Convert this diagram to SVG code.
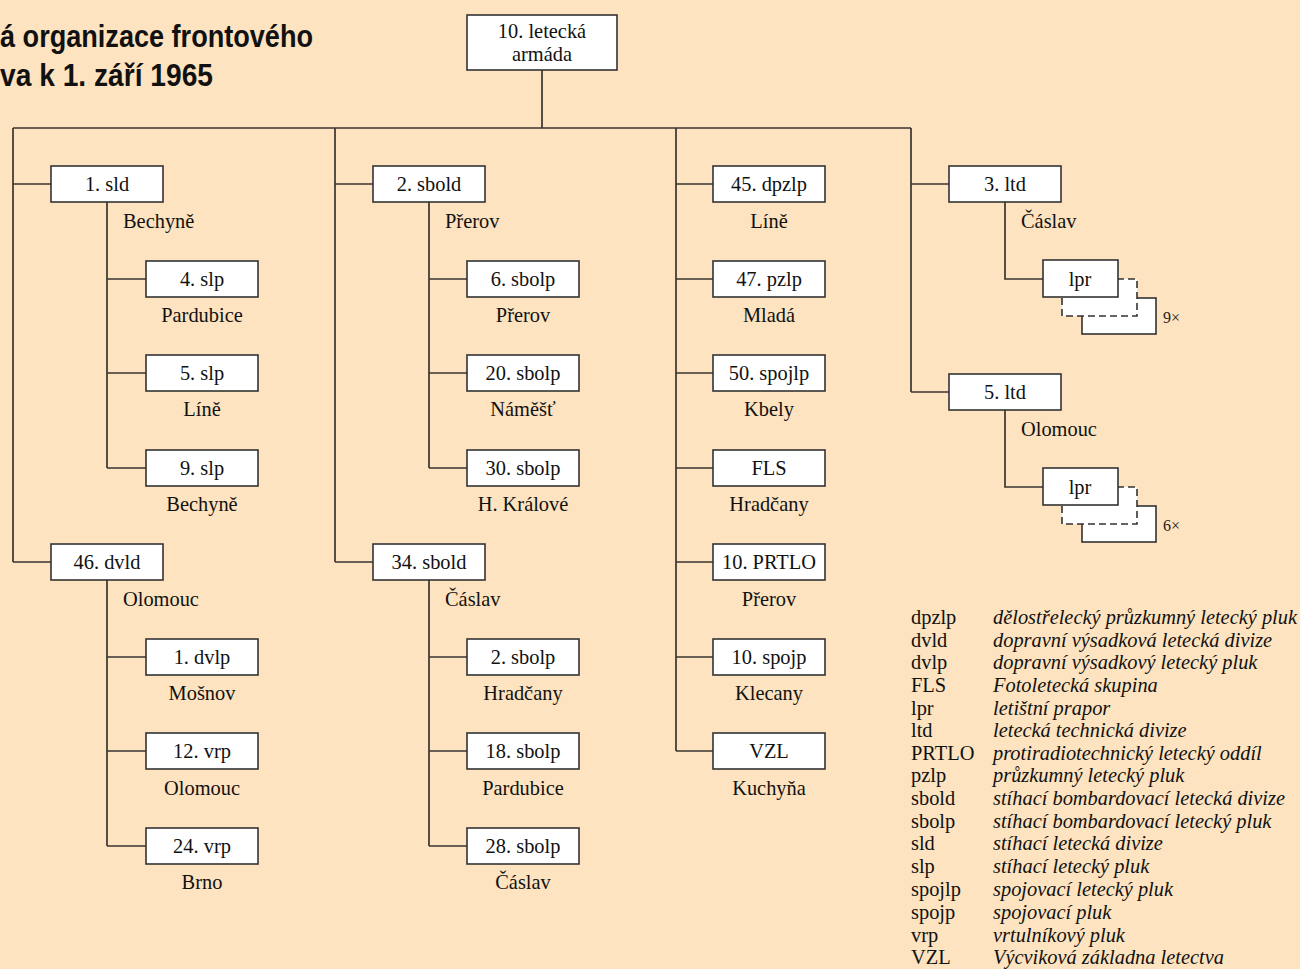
<svg xmlns="http://www.w3.org/2000/svg" width="1300" height="969" viewBox="0 0 1300 969">
<style>
.bg{fill:#fde3bf}
.box{fill:#fff;stroke:#333;stroke-width:1.6}
.dash{fill:#fff;stroke:#333;stroke-width:1.6;stroke-dasharray:7 4}
.ln{fill:none;stroke:#3a3530;stroke-width:1.7}
.t{font-family:"Liberation Serif","Times New Roman",serif;font-size:20.4px;fill:#111}
.c{text-anchor:middle}
.i{font-style:italic}
.title{font-family:"Liberation Sans Narrow","Liberation Sans",Arial,sans-serif;font-weight:bold;font-size:31px;fill:#111}
.x{font-family:"Liberation Serif",serif;font-size:16px;fill:#222}
</style>
<rect class="bg" x="0" y="0" width="1300" height="969"/>
<g id="title">
<text class="title" x="0" y="47" textLength="313" lengthAdjust="spacingAndGlyphs">á organizace frontového</text>
<text class="title" x="0" y="86" textLength="213" lengthAdjust="spacingAndGlyphs">va k 1. září 1965</text>
</g>
<g id="connectors">
<path class="ln" d="M542 70V128M13 128H911M13 128V562M335 128V562M676 128V751M911 128V392"/>
<path class="ln" d="M13 184H51M13 562H51M107 202V468M107 279H146M107 373H146M107 468H146M107 580V846M107 657H146M107 751H146M107 846H146"/>
<path class="ln" d="M335 184H373M335 562H373M429 202V468M429 279H467M429 373H467M429 468H467M429 580V846M429 657H467M429 751H467M429 846H467"/>
<path class="ln" d="M676 184H713M676 279H713M676 373H713M676 468H713M676 562H713M676 657H713M676 751H713"/>
<path class="ln" d="M911 184H949M911 392H949M1005 202V279H1043M1005 410V487H1043"/>
</g>
<g id="n-armada"><rect class="box" x="467" y="15" width="150" height="55"/><text class="t c" x="542" y="38">10. letecká</text><text class="t c" x="542" y="61">armáda</text></g>
<g id="n-1sld"><rect class="box" x="51" y="166" width="112" height="36"/><text class="t c" x="107" y="191">1. sld</text><text class="t" x="123" y="228">Bechyně</text></g>
<g id="n-4slp"><rect class="box" x="146" y="261" width="112" height="36"/><text class="t c" x="202" y="286">4. slp</text><text class="t c" x="202" y="322">Pardubice</text></g>
<g id="n-5slp"><rect class="box" x="146" y="355" width="112" height="36"/><text class="t c" x="202" y="380">5. slp</text><text class="t c" x="202" y="416">Líně</text></g>
<g id="n-9slp"><rect class="box" x="146" y="450" width="112" height="36"/><text class="t c" x="202" y="475">9. slp</text><text class="t c" x="202" y="511">Bechyně</text></g>
<g id="n-46dvld"><rect class="box" x="51" y="544" width="112" height="36"/><text class="t c" x="107" y="569">46. dvld</text><text class="t" x="123" y="606">Olomouc</text></g>
<g id="n-1dvlp"><rect class="box" x="146" y="639" width="112" height="36"/><text class="t c" x="202" y="664">1. dvlp</text><text class="t c" x="202" y="700">Mošnov</text></g>
<g id="n-12vrp"><rect class="box" x="146" y="733" width="112" height="36"/><text class="t c" x="202" y="758">12. vrp</text><text class="t c" x="202" y="795">Olomouc</text></g>
<g id="n-24vrp"><rect class="box" x="146" y="828" width="112" height="36"/><text class="t c" x="202" y="853">24. vrp</text><text class="t c" x="202" y="889">Brno</text></g>
<g id="n-2sbold"><rect class="box" x="373" y="166" width="112" height="36"/><text class="t c" x="429" y="191">2. sbold</text><text class="t" x="445" y="228">Přerov</text></g>
<g id="n-6sbolp"><rect class="box" x="467" y="261" width="112" height="36"/><text class="t c" x="523" y="286">6. sbolp</text><text class="t c" x="523" y="322">Přerov</text></g>
<g id="n-20sbolp"><rect class="box" x="467" y="355" width="112" height="36"/><text class="t c" x="523" y="380">20. sbolp</text><text class="t c" x="523" y="416">Náměšť</text></g>
<g id="n-30sbolp"><rect class="box" x="467" y="450" width="112" height="36"/><text class="t c" x="523" y="475">30. sbolp</text><text class="t c" x="523" y="511">H. Králové</text></g>
<g id="n-34sbold"><rect class="box" x="373" y="544" width="112" height="36"/><text class="t c" x="429" y="569">34. sbold</text><text class="t" x="445" y="606">Čáslav</text></g>
<g id="n-2sbolp"><rect class="box" x="467" y="639" width="112" height="36"/><text class="t c" x="523" y="664">2. sbolp</text><text class="t c" x="523" y="700">Hradčany</text></g>
<g id="n-18sbolp"><rect class="box" x="467" y="733" width="112" height="36"/><text class="t c" x="523" y="758">18. sbolp</text><text class="t c" x="523" y="795">Pardubice</text></g>
<g id="n-28sbolp"><rect class="box" x="467" y="828" width="112" height="36"/><text class="t c" x="523" y="853">28. sbolp</text><text class="t c" x="523" y="889">Čáslav</text></g>
<g id="n-45dpzlp"><rect class="box" x="713" y="166" width="112" height="36"/><text class="t c" x="769" y="191">45. dpzlp</text><text class="t c" x="769" y="228">Líně</text></g>
<g id="n-47pzlp"><rect class="box" x="713" y="261" width="112" height="36"/><text class="t c" x="769" y="286">47. pzlp</text><text class="t c" x="769" y="322">Mladá</text></g>
<g id="n-50spojlp"><rect class="box" x="713" y="355" width="112" height="36"/><text class="t c" x="769" y="380">50. spojlp</text><text class="t c" x="769" y="416">Kbely</text></g>
<g id="n-fls"><rect class="box" x="713" y="450" width="112" height="36"/><text class="t c" x="769" y="475">FLS</text><text class="t c" x="769" y="511">Hradčany</text></g>
<g id="n-10prtlo"><rect class="box" x="713" y="544" width="112" height="36"/><text class="t c" x="769" y="569">10. PRTLO</text><text class="t c" x="769" y="606">Přerov</text></g>
<g id="n-10spojp"><rect class="box" x="713" y="639" width="112" height="36"/><text class="t c" x="769" y="664">10. spojp</text><text class="t c" x="769" y="700">Klecany</text></g>
<g id="n-vzl"><rect class="box" x="713" y="733" width="112" height="36"/><text class="t c" x="769" y="758">VZL</text><text class="t c" x="769" y="795">Kuchyňa</text></g>
<g id="n-3ltd"><rect class="box" x="949" y="166" width="112" height="36"/><text class="t c" x="1005" y="191">3. ltd</text><text class="t" x="1021" y="228">Čáslav</text></g>
<g id="n-lpr1">
<rect class="box" x="1082" y="298" width="74" height="36"/>
<rect class="dash" x="1062" y="279" width="75" height="37"/>
<rect class="box" x="1043" y="260" width="75" height="37"/>
<text class="t c" x="1080" y="286">lpr</text>
<text class="x" x="1163" y="323">9×</text>
</g>
<g id="n-5ltd"><rect class="box" x="949" y="374" width="112" height="36"/><text class="t c" x="1005" y="399">5. ltd</text><text class="t" x="1021" y="436">Olomouc</text></g>
<g id="n-lpr2">
<rect class="box" x="1082" y="506" width="74" height="36"/>
<rect class="dash" x="1062" y="487" width="75" height="37"/>
<rect class="box" x="1043" y="468" width="75" height="37"/>
<text class="t c" x="1080" y="494">lpr</text>
<text class="x" x="1163" y="531">6×</text>
</g>
<g id="legend">
<text class="t" x="911" y="624">dpzlp</text><text class="t i" x="993" y="624">dělostřelecký průzkumný letecký pluk</text>
<text class="t" x="911" y="647">dvld</text><text class="t i" x="993" y="647">dopravní výsadková letecká divize</text>
<text class="t" x="911" y="669">dvlp</text><text class="t i" x="993" y="669">dopravní výsadkový letecký pluk</text>
<text class="t" x="911" y="692">FLS</text><text class="t i" x="993" y="692">Fotoletecká skupina</text>
<text class="t" x="911" y="715">lpr</text><text class="t i" x="993" y="715">letištní prapor</text>
<text class="t" x="911" y="737">ltd</text><text class="t i" x="993" y="737">letecká technická divize</text>
<text class="t" x="911" y="760">PRTLO</text><text class="t i" x="993" y="760">protiradiotechnický letecký oddíl</text>
<text class="t" x="911" y="782">pzlp</text><text class="t i" x="993" y="782">průzkumný letecký pluk</text>
<text class="t" x="911" y="805">sbold</text><text class="t i" x="993" y="805">stíhací bombardovací letecká divize</text>
<text class="t" x="911" y="828">sbolp</text><text class="t i" x="993" y="828">stíhací bombardovací letecký pluk</text>
<text class="t" x="911" y="850">sld</text><text class="t i" x="993" y="850">stíhací letecká divize</text>
<text class="t" x="911" y="873">slp</text><text class="t i" x="993" y="873">stíhací letecký pluk</text>
<text class="t" x="911" y="896">spojlp</text><text class="t i" x="993" y="896">spojovací letecký pluk</text>
<text class="t" x="911" y="919">spojp</text><text class="t i" x="993" y="919">spojovací pluk</text>
<text class="t" x="911" y="942">vrp</text><text class="t i" x="993" y="942">vrtulníkový pluk</text>
<text class="t" x="911" y="964">VZL</text><text class="t i" x="993" y="964">Výcviková základna letectva</text>
</g>
</svg>
